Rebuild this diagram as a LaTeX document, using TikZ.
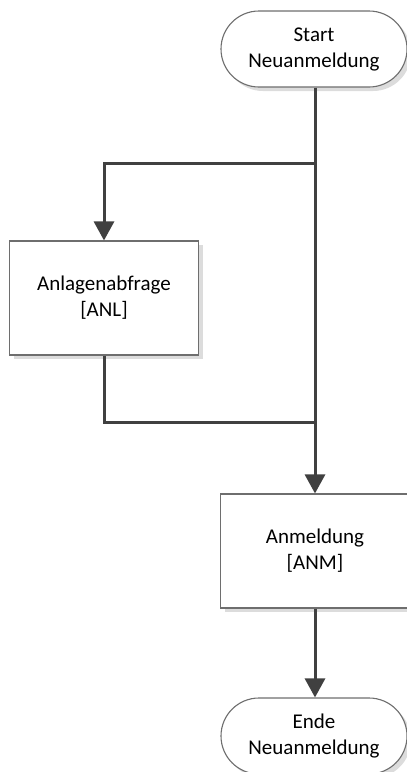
\documentclass[tikz,border=0pt]{standalone}
\usepackage{fontspec}
\setmainfont{Carlito}
\usetikzlibrary{arrows.meta,shadows}
\definecolor{conn}{HTML}{404040}
\definecolor{bord}{HTML}{6E6E6E}
\definecolor{shad}{HTML}{DCDCDC}
\tikzset{
  base/.style={draw=bord, line width=1.1pt, fill=white, align=center,
    font=\fontsize{21}{26}\selectfont, inner sep=0pt,
    drop shadow={shadow xshift=4pt, shadow yshift=-4pt, fill=shad, opacity=1}},
  term/.style={base, rounded corners=38pt, minimum width=186pt, minimum height=76pt},
  proc/.style={base, minimum width=189pt, minimum height=114pt},
  link/.style={draw=conn, line width=3pt},
  arr/.style={link, -{Triangle[length=19pt,width=20pt]}}
}
\begin{document}
\begin{tikzpicture}[x=1pt,y=-1pt]
\useasboundingbox (0,0) rectangle (407,772);
\node[term] (start) at (314,49) {Start\\Neuanmeldung};
\node[proc] (anl) at (104,298) {Anlagenabfrage\\{[ANL]}};
\node[proc] (anm) at (315,551) {Anmeldung\\{[ANM]}};
\node[term] (ende) at (314,736) {Ende\\Neuanmeldung};
\coordinate (j1) at (315,163);
\coordinate (j2) at (315,422);
\draw[arr] (start.south -| j1) -- (anm.north -| j1);
\draw[arr] (j1) -| (anl.north);
\draw[link] (anl.south) |- (j2);
\draw[arr] (anm.south) -- (ende.north -| anm.south);
\end{tikzpicture}
\end{document}
